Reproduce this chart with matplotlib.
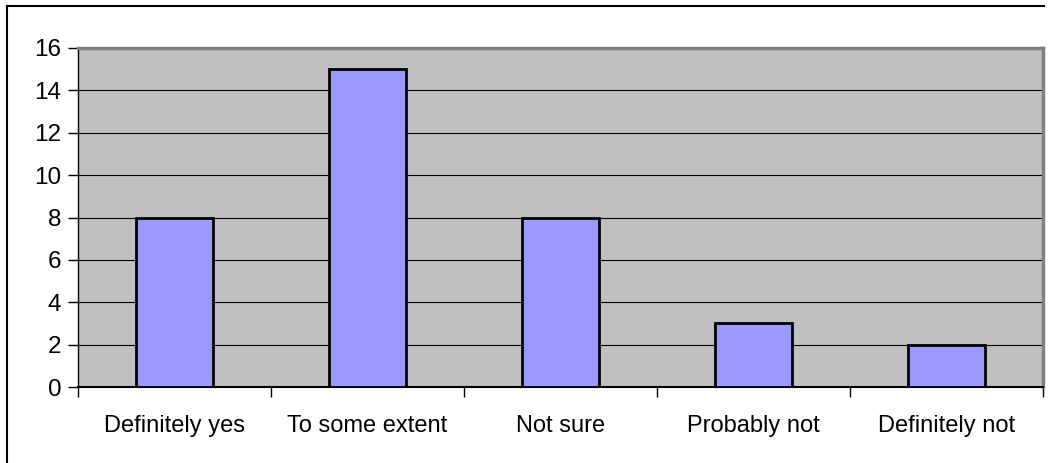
import numpy as np
from matplotlib import pyplot as plt
from matplotlib.lines import Line2D

# data
categories = ['Definitely yes', 'To some extent', 'Not sure', 'Probably not', 'Definitely not']
counts = [8, 15, 8, 3, 2]
y_ticks = [0, 2, 4, 6, 8, 10, 12, 14, 16]

plt.rcParams['font.family'] = ['Liberation Sans', 'DejaVu Sans']

fig = plt.figure(figsize=(10.53, 4.63), dpi=100)
ax = fig.add_axes([78 / 1053, 76 / 463, 965 / 1053, 339 / 463])
ax.set_facecolor('#C0C0C0')

x = np.arange(len(categories))
ax.bar(x, counts, width=0.4, color='#9999FF', edgecolor='black', linewidth=2, zorder=3)

ax.set_xlim(-0.5, len(categories) - 0.5)
ax.set_ylim(0, 16)
ax.set_yticks(y_ticks)
ax.grid(axis='y', color='black', linewidth=0.8, zorder=1)

# category boundaries as major ticks, labels on minor ticks
ax.set_xticks(np.arange(-0.5, len(categories)), labels=[])
ax.set_xticks(x, labels=categories, minor=True)
ax.tick_params(axis='x', which='major', direction='out', length=7, width=1, color='black')
ax.tick_params(axis='x', which='minor', length=0, pad=20, labelsize=17)
ax.tick_params(axis='y', direction='out', length=7, width=1, labelsize=17.5, pad=5)

for s in ['top', 'right']:
    ax.spines[s].set_color('#808080')
    ax.spines[s].set_linewidth(2.5)
ax.spines['left'].set_color('black')
ax.spines['bottom'].set_color('black')
ax.spines['left'].set_linewidth(1)
ax.spines['bottom'].set_linewidth(1.5)

# outer chart border
fig.add_artist(Line2D([7 / 1053, 7 / 1053], [0, 1 - 6 / 463], color='black', linewidth=1.5))
fig.add_artist(Line2D([7 / 1053, 1044 / 1053], [1 - 6 / 463, 1 - 6 / 463], color='black', linewidth=1.5))

plt.savefig('out.png', dpi=100)
